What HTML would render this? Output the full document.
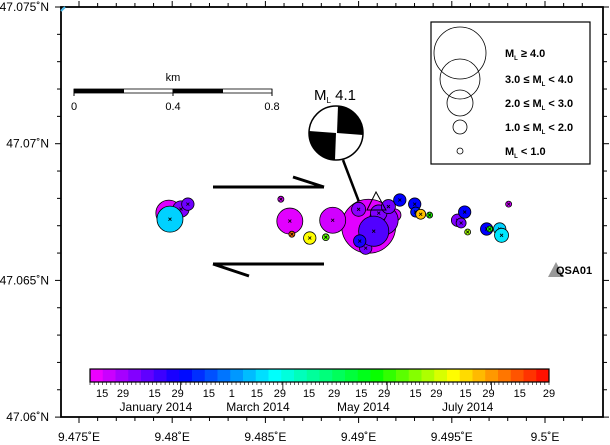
<!DOCTYPE html>
<html><head><meta charset="utf-8"><style>
html,body{margin:0;padding:0;background:#fff;}
svg{display:block;font-family:"Liberation Sans",Arial,sans-serif;}
</style></head><body>
<svg id="map" width="610" height="445" viewBox="0 0 610 445">
<g id="frame-ticks"></g>
<rect x="61" y="7" width="542" height="410" fill="none" stroke="#000" stroke-width="1.8"/>
<line x1="61" y1="11" x2="65" y2="7" stroke="#4ab8e8" stroke-width="2"/>
<g id="axis-labels" font-size="12"></g>

<g>
<text x="173" y="81" font-size="11" text-anchor="middle">km</text>
<rect x="74" y="89" width="198" height="4" fill="#fff" stroke="#000" stroke-width="0.8"/>
<rect x="74" y="89" width="50" height="4" fill="#000"/>
<rect x="173" y="89" width="50" height="4" fill="#000"/>
<line x1="74" y1="89" x2="74" y2="96" stroke="#000"/><line x1="173" y1="89" x2="173" y2="96" stroke="#000"/><line x1="272" y1="89" x2="272" y2="96" stroke="#000"/>
<text x="74" y="110" font-size="11" text-anchor="middle">0</text>
<text x="173" y="110" font-size="11" text-anchor="middle">0.4</text>
<text x="272" y="110" font-size="11" text-anchor="middle">0.8</text>
</g>

<g stroke="#000" stroke-width="3" fill="none">
<line x1="213" y1="187" x2="324" y2="187"/>
<line x1="293" y1="177" x2="324" y2="187"/>
<line x1="213" y1="264" x2="324" y2="264"/>
<line x1="213" y1="264" x2="249" y2="276"/>
</g>

<line x1="343" y1="160" x2="364" y2="215" stroke="#000" stroke-width="2.5"/>

<g id="events"></g>

<polygon points="376,192 367,210 386,210" fill="none" stroke="#000" stroke-width="1"/>

<g>
<text x="314" y="100" font-size="15">M<tspan font-size="8" dy="3">L</tspan><tspan dy="-3"> 4.1</tspan></text>
<circle cx="336" cy="133" r="27" fill="#fff"/>
<path d="M338,106 A27,27 0 0,1 363,135 L337,133 Z" fill="#000"/>
<path d="M309,131 A27,27 0 0,0 335,160 L336,133 Z" fill="#000"/>
<circle cx="336" cy="133" r="27" fill="none" stroke="#000" stroke-width="1.5"/>
</g>

<g>
<polygon points="556,262 548,277 564,277" fill="#999"/>
<text x="556" y="274" font-size="11" font-weight="bold">QSA01</text>
</g>

<g>
<rect x="431" y="22" width="159" height="142" fill="#fff" stroke="#000" stroke-width="1.2"/>
<g fill="none" stroke="#000" stroke-width="0.8">
<circle cx="460" cy="53" r="26"/><circle cx="460" cy="79" r="20"/><circle cx="460" cy="103" r="13"/><circle cx="460" cy="127" r="7"/><circle cx="460" cy="151" r="3"/>
</g>
<g font-size="11" font-weight="bold">
<text x="505" y="57">M<tspan font-size="6" dy="3">L</tspan><tspan dy="-3"> ≥ 4.0</tspan></text>
<text x="505" y="83">3.0 ≤ M<tspan font-size="6" dy="3">L</tspan><tspan dy="-3"> &lt; 4.0</tspan></text>
<text x="505" y="107">2.0 ≤ M<tspan font-size="6" dy="3">L</tspan><tspan dy="-3"> &lt; 3.0</tspan></text>
<text x="505" y="131">1.0 ≤ M<tspan font-size="6" dy="3">L</tspan><tspan dy="-3"> &lt; 2.0</tspan></text>
<text x="505" y="155">M<tspan font-size="6" dy="3">L</tspan><tspan dy="-3"> &lt; 1.0</tspan></text>
</g>
</g>

<g id="colorbar"></g>
</svg>
<script>
const evLon=[9.47988,9.47982,9.48047,9.48084,9.48020,9.48583,9.48631,9.48642,9.48738,9.48824,9.48861,9.49054,9.49081,9.49135,9.49006,9.49038,9.49108,9.49221,9.49306,9.49301,9.49333,9.49381,9.49194,9.49569,9.49531,9.49550,9.49585,9.49687,9.49757,9.49767,9.49703,9.49805,9.49160,9.49000];
const evLat=[47.06724,47.06746,47.06761,47.06779,47.06695,47.06797,47.06717,47.06669,47.06655,47.06658,47.06720,47.06698,47.06680,47.06720,47.06644,47.06618,47.06746,47.06794,47.06750,47.06779,47.06742,47.06739,47.06739,47.06750,47.06720,47.06710,47.06677,47.06688,47.06688,47.06665,47.06688,47.06779,47.06770,47.06760];
const evMag=[2.5,2.5,1.7,1.3,0.5,0.5,2.5,0.5,1.3,0.6,2.5,4.1,2.8,2.7,1.3,1.3,1.7,1.3,1.0,1.3,1.0,0.5,1.3,1.3,1.3,1.0,0.5,1.3,1.3,1.5,0.5,0.5,1.5,1.5];
const evDay=[80,6,22,25,8,6,5,200,174,150,8,5,30,20,40,24,22,44,48,44,185,140,8,44,22,24,160,44,80,84,140,8,24,20];
const cbTickDays=[5.8,15.8,31,42,57,68,80,91,105,117,130,141,156,166,180,191,206,220];
const cbTickLabels=["15","29","15","29","15","1","15","29","15","29","15","29","15","29","15","29","15","29"];
const monthDays=[31.6,80.5,131,181];
const monthLabels=["January 2014","March 2014","May 2014","July 2014"];
const lonTicks=[9.475,9.48,9.485,9.49,9.495,9.5];
const lonLabels=["9.475˚E","9.48˚E","9.485˚E","9.49˚E","9.495˚E","9.5˚E"];
const latTicks=[47.075,47.07,47.065,47.06];
const latLabels=["47.075˚N","47.07˚N","47.065˚N","47.06˚N"];

const NS="http://www.w3.org/2000/svg";
const X=lon=>79+(lon-9.475)/0.005*93.2;
const Y=lat=>7+(47.075-lat)/0.005*136.7;
const DAYMAX=220;
const CBX=d=>90+d/DAYMAX*459;
function R(m){const mm=[0.5,1.5,2.5,3.5,4.1],rr=[3,7,13,20,27];
 if(m<=mm[0])return rr[0];for(let i=1;i<mm.length;i++){if(m<=mm[i]){const f=(m-mm[i-1])/(mm[i]-mm[i-1]);return rr[i-1]+f*(rr[i]-rr[i-1]);}}return rr[4];}
function cmap(t){const s=[[0,255,0,255],[0.2,0,0,255],[0.4,0,255,255],[0.62,0,255,0],[0.79,255,255,0],[1,255,0,0]];
 t=Math.max(0,Math.min(1,t));for(let i=1;i<s.length;i++){if(t<=s[i][0]){const f=(t-s[i-1][0])/(s[i][0]-s[i-1][0]);
 const c=[1,2,3].map(k=>Math.round(s[i-1][k]+f*(s[i][k]-s[i-1][k])));return `rgb(${c})`;}}return "rgb(255,0,0)";}
function mk(tag,a,p){const e=document.createElementNS(NS,tag);for(const k in a)e.setAttribute(k,a[k]);p.appendChild(e);return e;}

const ft=document.getElementById('frame-ticks');
for(let i=-1;i<=27;i++){const lon=9.475+i*0.001;const x=X(lon);if(x<61||x>603)continue;const major=i%5===0;const L=major?6:4;
 mk('line',{x1:x,y1:7,x2:x,y2:7-L,stroke:'#000','stroke-width':1},ft);
 mk('line',{x1:x,y1:417,x2:x,y2:417+L,stroke:'#000','stroke-width':1},ft);}
for(let i=0;i<=15;i++){const lat=47.06+i*0.001;const y=Y(lat);const major=i%5===0;const L=major?6:4;
 mk('line',{x1:61,y1:y,x2:61-L,y2:y,stroke:'#000','stroke-width':1},ft);
 mk('line',{x1:603,y1:y,x2:603+L,y2:y,stroke:'#000','stroke-width':1},ft);}
const al=document.getElementById('axis-labels');
lonTicks.forEach((v,i)=>{const t=mk('text',{x:X(v),y:441,'text-anchor':'middle'},al);t.textContent=lonLabels[i];
 
 });
latTicks.forEach((v,i)=>{const t=mk('text',{x:49,y:Y(v)+4,'text-anchor':'end'},al);t.textContent=latLabels[i];
 
 });

const eg=document.getElementById('events');
const idx=evLon.map((_,i)=>i).sort((a,b)=>evDay[a]-evDay[b]||evMag[b]-evMag[a]);
idx.forEach(i=>{const cx=X(evLon[i]),cy=Y(evLat[i]),r=R(evMag[i]);
 const c=mk('circle',{cx:cx,cy:cy,r:r,fill:cmap(evDay[i]/DAYMAX),stroke:'#000','stroke-width':0.8},eg);
 
 
 mk('path',{d:`M${cx-1.5},${cy-1.5}L${cx+1.5},${cy+1.5}M${cx-1.5},${cy+1.5}L${cx+1.5},${cy-1.5}`,stroke:'#000','stroke-width':0.8},eg);});

const cb=document.getElementById('colorbar');
const N=36;for(let k=0;k<N;k++){mk('rect',{x:90+k*459/N,y:369,width:459/N+0.5,height:13,fill:cmap((k+0.5)/N)},cb);}
mk('rect',{x:90,y:369,width:459,height:13,fill:'none',stroke:'#000','stroke-width':1.2},cb);
for(let d=0;d<=DAYMAX;d+=2){mk('line',{x1:CBX(d),y1:382,x2:CBX(d),y2:385,stroke:'#000','stroke-width':0.6},cb);}
cbTickDays.forEach((d,i)=>{const t=mk('text',{x:CBX(d),y:397,'font-size':11,'text-anchor':'middle'},cb);t.textContent=cbTickLabels[i];
 
 });
[42,91,141,191].forEach(d=>mk('line',{x1:CBX(d)+3,y1:382,x2:CBX(d)+3,y2:390,stroke:'#000','stroke-width':0.8},cb));
monthDays.forEach((d,i)=>{const t=mk('text',{x:CBX(d),y:411,'font-size':12,'text-anchor':'middle'},cb);t.textContent=monthLabels[i];
 
 });
</script>
</body></html>
